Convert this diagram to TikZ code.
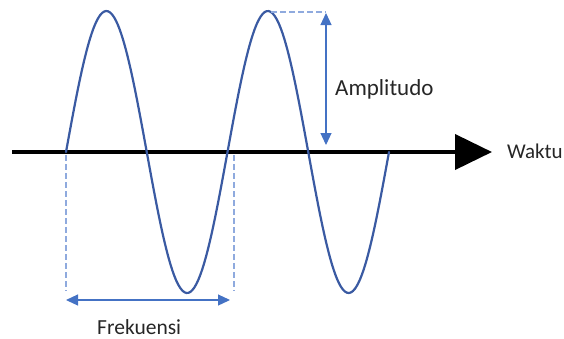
\documentclass[tikz,border=0pt]{standalone}
\usepackage{fontspec}
\setmainfont{Carlito}
\usetikzlibrary{arrows.meta}
\definecolor{wavec}{RGB}{58,90,162}
\definecolor{accent}{RGB}{68,114,196}
\definecolor{dashc}{RGB}{143,170,222}
\definecolor{txt}{RGB}{38,38,38}
\begin{document}
\begin{tikzpicture}[x=1pt,y=-1pt,
  axisline/.style={line width=4pt,black,-{Triangle[length=37pt,width=35pt]}},
  wavepath/.style={line width=2.2pt,wavec,line join=round,line cap=round},
  guide/.style={line width=1.1pt,dashc,dash pattern=on 6pt off 3pt},
  measure/.style={line width=1.2pt,accent,{Triangle[length=12pt,width=11pt]}-{Triangle[length=12pt,width=11pt]}},
  lbl/.style={inner sep=0pt,text=txt,anchor=base west}]
\useasboundingbox (0,0) rectangle (564,338);
% axis
\coordinate (axisL) at (12,152);
\coordinate (axisR) at (492,152);
\draw[axisline] (axisL) -- (axisR);
% wave
\draw[wavepath] plot[domain=0:323,samples=162,smooth] ({66+\x},{152-141*sin(2.22910*\x)});
% guides
\coordinate (g1a) at (66,155);  \coordinate (g1b) at (66,291);
\coordinate (g2a) at (234,155); \coordinate (g2b) at (234,291);
\coordinate (g3a) at (271,12);  \coordinate (g3b) at (326,12);
\draw[guide] (g1a) -- (g1b);
\draw[guide] (g2a) -- (g2b);
\draw[guide] (g3a) -- (g3b);
% measures
\coordinate (ampTop) at (326,13);  \coordinate (ampBot) at (326,145);
\coordinate (frL) at (66,300);     \coordinate (frR) at (230,300);
\draw[measure] (ampTop) -- (ampBot);
\draw[measure] (frL) -- (frR);
% labels
\node[lbl,font=\fontsize{23}{26}\selectfont] (amp) at (335,95) {Amplitudo};
\node[lbl,font=\fontsize{21.5}{25}\selectfont] (frek) at (97,334) {Frekuensi};
\node[lbl,font=\fontsize{21}{25}\selectfont] (waktu) at (507,158) {Waktu};
\end{tikzpicture}
\end{document}
